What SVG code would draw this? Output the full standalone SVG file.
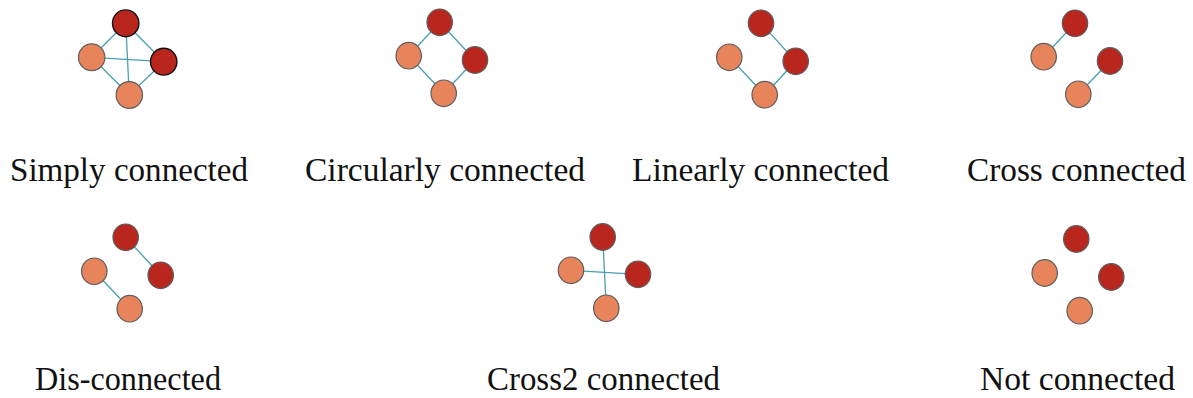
<svg xmlns="http://www.w3.org/2000/svg" width="1193" height="398" viewBox="0 0 1193 398">
<style>
.r{fill:#B8261E;stroke:#5e5e5e;stroke-width:1.2}
.o{fill:#E8845C;stroke:#5e5e5e;stroke-width:1.2}
.rb{fill:#B8261E;stroke:#111;stroke-width:1.4}
.e{stroke:#4A9FB0;stroke-width:1.3;fill:none}
.t{font-family:"Liberation Serif","Times New Roman",serif;font-size:33px;fill:#111;text-anchor:middle}
</style>
<rect width="1193" height="398" fill="#fff"/>
<g id="connectors">
<!-- Simply -->
<line class="e" x1="125.7" y1="23.3" x2="91.7" y2="57.3"/>
<line class="e" x1="125.7" y1="23.3" x2="163.7" y2="61.7"/>
<line class="e" x1="125.7" y1="23.3" x2="129.3" y2="95"/>
<line class="e" x1="91.7" y1="57.3" x2="163.7" y2="61.7"/>
<line class="e" x1="91.7" y1="57.3" x2="129.3" y2="95"/>
<line class="e" x1="163.7" y1="61.7" x2="129.3" y2="95"/>
<!-- Circular -->
<line class="e" x1="439.7" y1="22.3" x2="408.7" y2="55.7"/>
<line class="e" x1="439.7" y1="22.3" x2="475" y2="60"/>
<line class="e" x1="408.7" y1="55.7" x2="443.7" y2="93.3"/>
<line class="e" x1="475" y1="60" x2="443.7" y2="93.3"/>
<!-- Linear -->
<line class="e" x1="761" y1="23.3" x2="795.7" y2="61.3"/>
<line class="e" x1="795.7" y1="61.3" x2="764.7" y2="94.7"/>
<line class="e" x1="729.3" y1="57.3" x2="764.7" y2="94.7"/>
<!-- Cross -->
<line class="e" x1="1075" y1="23.3" x2="1043.7" y2="56.7"/>
<line class="e" x1="1110" y1="61" x2="1078.3" y2="94.3"/>
<!-- Dis -->
<line class="e" x1="125.7" y1="237.3" x2="160.7" y2="275.3"/>
<line class="e" x1="94.3" y1="271.3" x2="129.7" y2="308.7"/>
<!-- Cross2 -->
<line class="e" x1="602.7" y1="237" x2="606.3" y2="308.3"/>
<line class="e" x1="571" y1="270.3" x2="638" y2="274.3"/>
</g>
<g id="simply">
<ellipse class="rb" cx="125.7" cy="23.3" rx="13.2" ry="13.4"/>
<ellipse class="o" cx="91.7" cy="57.3" rx="13.2" ry="13.4"/>
<ellipse class="rb" cx="163.7" cy="61.7" rx="13.2" ry="13.4"/>
<ellipse class="o" cx="129.3" cy="95" rx="13.2" ry="13.4"/>
<text class="t" x="129" y="180.5" textLength="238" lengthAdjust="spacingAndGlyphs">Simply connected</text>
</g>
<g id="circular">
<ellipse class="r" cx="439.7" cy="22.3" rx="12.7" ry="13.3"/>
<ellipse class="o" cx="408.7" cy="55.7" rx="12.7" ry="13.3"/>
<ellipse class="r" cx="475" cy="60" rx="12.7" ry="13.3"/>
<ellipse class="o" cx="443.7" cy="93.3" rx="12.7" ry="13.3"/>
<text class="t" x="445" y="180.5" textLength="280" lengthAdjust="spacingAndGlyphs">Circularly connected</text>
</g>
<g id="linear">
<ellipse class="r" cx="761" cy="23.3" rx="12.7" ry="13.3"/>
<ellipse class="o" cx="729.3" cy="57.3" rx="12.7" ry="13.3"/>
<ellipse class="r" cx="795.7" cy="61.3" rx="12.7" ry="13.3"/>
<ellipse class="o" cx="764.7" cy="94.7" rx="12.7" ry="13.3"/>
<text class="t" x="760.5" y="180.5" textLength="257" lengthAdjust="spacingAndGlyphs">Linearly connected</text>
</g>
<g id="cross">
<ellipse class="r" cx="1075" cy="23.3" rx="12.7" ry="13.3"/>
<ellipse class="o" cx="1043.7" cy="56.7" rx="12.7" ry="13.3"/>
<ellipse class="r" cx="1110" cy="61" rx="12.7" ry="13.3"/>
<ellipse class="o" cx="1078.3" cy="94.3" rx="12.7" ry="13.3"/>
<text class="t" x="1076.5" y="180.5" textLength="219" lengthAdjust="spacingAndGlyphs">Cross connected</text>
</g>
<g id="dis">
<ellipse class="r" cx="125.7" cy="237.3" rx="12.7" ry="13.3"/>
<ellipse class="o" cx="94.3" cy="271.3" rx="12.7" ry="13.3"/>
<ellipse class="r" cx="160.7" cy="275.3" rx="12.7" ry="13.3"/>
<ellipse class="o" cx="129.7" cy="308.7" rx="12.7" ry="13.3"/>
<text class="t" x="128" y="390" textLength="186" lengthAdjust="spacingAndGlyphs">Dis-connected</text>
</g>
<g id="cross2">
<ellipse class="r" cx="602.7" cy="237" rx="12.7" ry="13.3"/>
<ellipse class="o" cx="571" cy="270.3" rx="12.7" ry="13.3"/>
<ellipse class="r" cx="638" cy="274.3" rx="12.7" ry="13.3"/>
<ellipse class="o" cx="606.3" cy="308.3" rx="12.7" ry="13.3"/>
<text class="t" x="603.5" y="390" textLength="233" lengthAdjust="spacingAndGlyphs">Cross2 connected</text>
</g>
<g id="not">
<ellipse class="r" cx="1076.3" cy="239" rx="12.7" ry="13.3"/>
<ellipse class="o" cx="1044.7" cy="273" rx="12.7" ry="13.3"/>
<ellipse class="r" cx="1111.3" cy="277" rx="12.7" ry="13.3"/>
<ellipse class="o" cx="1079.7" cy="310.7" rx="12.7" ry="13.3"/>
<text class="t" x="1077.5" y="390" textLength="195" lengthAdjust="spacingAndGlyphs">Not connected</text>
</g>
</svg>
